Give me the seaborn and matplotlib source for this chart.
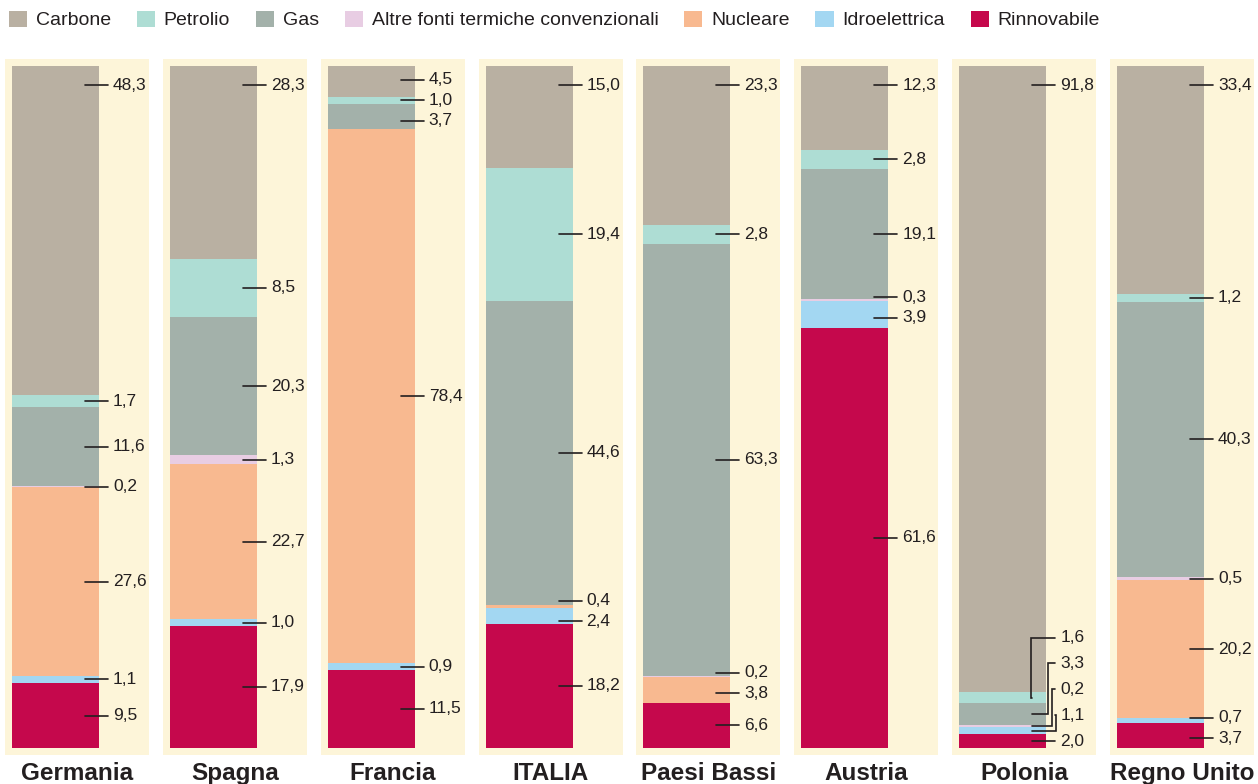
import numpy as np
import pandas as pd
import matplotlib
matplotlib.use("Agg")
import matplotlib.pyplot as plt
from matplotlib.patches import Rectangle, Patch
import seaborn as sns

# dati (percentuali per fonte, dall'alto verso il basso della barra)
paesi = ["Germania", "Spagna", "Francia", "ITALIA", "Paesi Bassi", "Austria", "Polonia", "Regno Unito"]
fonti = ["Carbone", "Petrolio", "Gas", "Altre fonti termiche convenzionali",
         "Nucleare", "Idroelettrica", "Rinnovabile"]

carbone     = [48.3, 28.3, 4.5, 15.0, 23.3, 12.3, 91.8, 33.4]
petrolio    = [1.7, 8.5, 1.0, 19.4, 2.8, 2.8, 1.6, 1.2]
gas         = [11.6, 20.3, 3.7, 44.6, 63.3, 19.1, 3.3, 40.3]
altre       = [0.2, 1.3, 0.0, 0.0, 0.2, 0.3, 0.2, 0.5]
nucleare    = [27.6, 22.7, 78.4, 0.4, 3.8, 0.0, 0.0, 20.2]
idro        = [1.1, 1.0, 0.9, 2.4, 0.0, 3.9, 1.1, 0.7]
rinnovabile = [9.5, 17.9, 11.5, 18.2, 6.6, 61.6, 2.0, 3.7]

colori = ["#b9b0a2", "#aeddd4", "#a3b1aa", "#e8cde3", "#f8b990", "#a3d7f2", "#c5084c"]
sfondo = "#fdf5d9"
inchiostro = "#231f20"

valori = [carbone, petrolio, gas, altre, nucleare, idro, rinnovabile]
df = pd.DataFrame([(p, f, v[i]) for f, v in zip(fonti, valori) for i, p in enumerate(paesi)],
                  columns=["paese", "fonte", "valore"])

#–----------------------------------------------------------------------------

sns.set_style("white")
plt.rcParams['font.family'] = ['Liberation Sans', 'DejaVu Sans']

W, H = 1258, 784
fig = plt.figure(figsize=(W / 100, H / 100), dpi=100)
ax = fig.add_axes([0, 0, 1, 1])

PX_X = 157.86   # pixel per unita' x
PX_Y = 6.82     # pixel per punto percentuale
px = lambda p: p / PX_X
py = lambda p: p / PX_Y

# riquadri di sfondo
for i in range(len(paesi)):
    ax.add_patch(Rectangle((i - px(50.5), -py(7)), px(144), 100 + py(14),
                           facecolor=sfondo, edgecolor="none", zorder=0))

sns.histplot(df, x="paese", weights="valore", hue="fonte", hue_order=fonti,
             multiple="stack", discrete=True, shrink=87 / PX_X, palette=colori,
             alpha=1, linewidth=0, legend=False, ax=ax, zorder=2)


def place_labels(centers, lo=1.0, hi=98.8, gap=3.0):
    pos = list(centers)
    for _ in range(300):
        moved = False
        order = sorted(range(len(pos)), key=lambda k: pos[k])
        for a, b in zip(order[:-1], order[1:]):
            d = pos[b] - pos[a]
            if d < gap - 1e-6:
                push = (gap - d) / 2
                pos[a] -= push
                pos[b] += push
                moved = True
        pos = [min(max(p, lo), hi) for p in pos]
        if not moved:
            break
    return pos


elbow_off = [-15, 2, 6, 10]
for i, paese in enumerate(paesi):
    vals = [v[i] for v in valori]
    tops = 100 - np.concatenate([[0], np.cumsum(vals)[:-1]])
    bots = tops - np.array(vals)
    idx = [k for k in range(len(fonti)) if vals[k] > 0]
    centers = [(tops[k] + bots[k]) / 2 for k in idx]
    centers[0] = 97.2  # etichetta del carbone in alto
    # blocchi piccoli in fondo: un po' piu' di respiro
    gap = 3.8 if sum(vals[k] < 3.5 for k in idx) >= 4 else 3.0
    pos = place_labels(centers, gap=gap)
    right = i + px(87) / 2
    x0, x1 = right - px(14), right + px(9)
    j = 0
    for k, c, p in zip(idx, [(tops[k] + bots[k]) / 2 for k in idx], pos):
        if p > tops[k] + 0.8 or p < bots[k] - 0.8:
            xv = right + px(elbow_off[min(j, 3)])
            j += 1
            ax.plot([x0, xv, xv, x1], [c, c, p, p], color=inchiostro, lw=1.2,
                    zorder=3, solid_joinstyle="miter")
        else:
            ax.plot([x0, x1], [p, p], color=inchiostro, lw=1.2, zorder=3)
        ax.text(right + px(14), p, f"{vals[k]:.1f}".replace(".", ","),
                ha="left", va="center", fontsize=12.5, color=inchiostro, zorder=4)
    ax.text(i - px(50.5) + px(72), -py(32), paese, ha="center", va="baseline",
            fontsize=17.5, fontweight="bold", color=inchiostro)

ax.set_xlim(-55.5 / PX_X, -55.5 / PX_X + W / PX_X)
ax.set_ylim(-(H - 748) / PX_Y, 100 + 66 / PX_Y)
ax.axis("off")

handles = [Patch(facecolor=c, edgecolor="none") for c in colori]
fig.legend(handles, fonti, loc="center left", bbox_to_anchor=(9 / W, 1 - 20 / H),
           ncol=7, frameon=False, fontsize=14, handlelength=0.93, handleheight=0.93,
           handletextpad=0.45, columnspacing=1.33, borderpad=0, borderaxespad=0,
           labelcolor=inchiostro)

fig.savefig("out.png", dpi=100)
